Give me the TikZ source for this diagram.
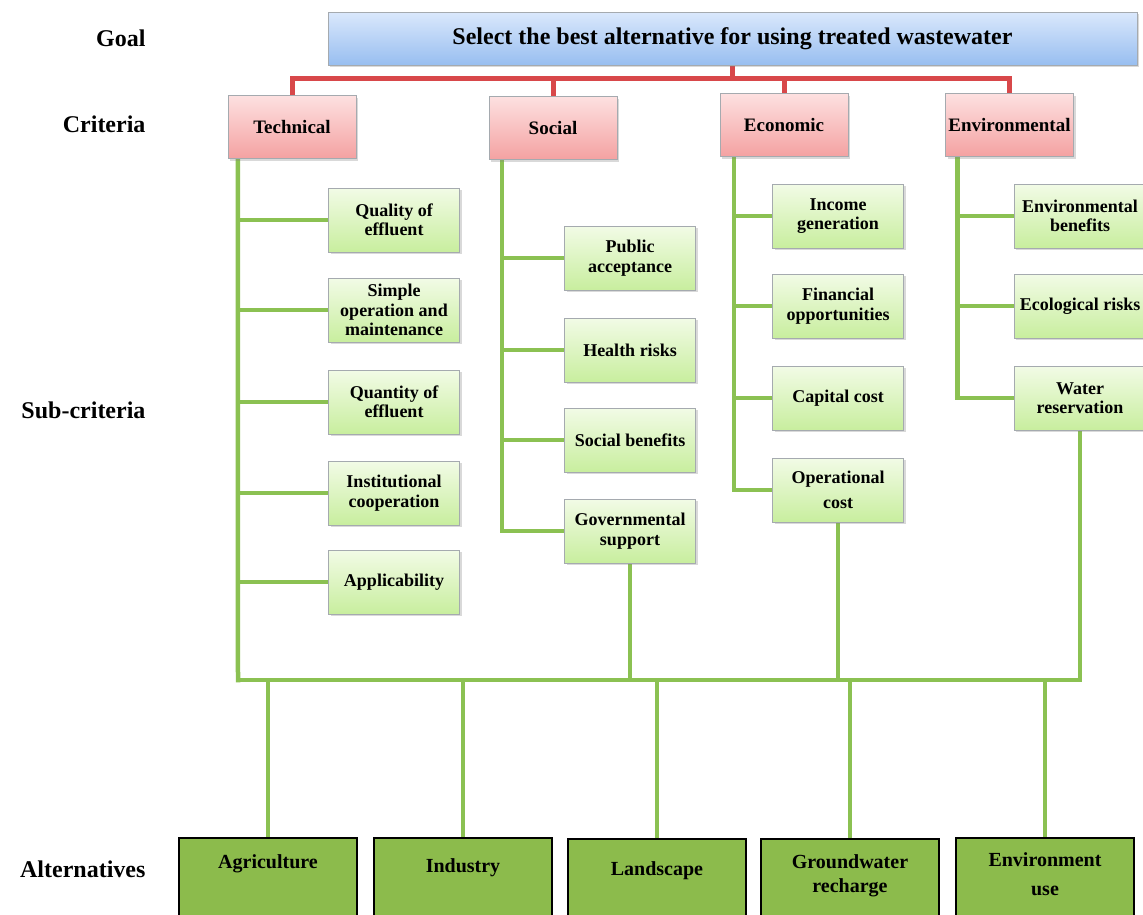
\documentclass[tikz,border=0pt]{standalone}
\usepackage{fontspec}
\setmainfont{Liberation Serif}
\usetikzlibrary{positioning,calc,backgrounds,shadows}
\definecolor{goalT}{RGB}{218,232,252}
\definecolor{goalB}{RGB}{152,190,240}
\definecolor{critT}{RGB}{253,224,224}
\definecolor{critB}{RGB}{244,162,162}
\definecolor{subT}{RGB}{242,251,230}
\definecolor{subB}{RGB}{200,238,158}
\definecolor{altG}{RGB}{140,187,76}
\definecolor{lineG}{RGB}{139,193,82}
\definecolor{lineR}{RGB}{216,72,74}
\definecolor{boxE}{RGB}{165,170,175}
\newcommand{\alttxt}[2]{\parbox[c][78pt][t]{178pt}{\centering\vspace*{#1}#2\par}}

\begin{document}
\begin{tikzpicture}[x=1pt, y=-1pt,
  lab/.style={anchor=east, font=\fontsize{24}{28}\selectfont\bfseries},
  goalbox/.style={rectangle, draw=boxE, top color=goalT, bottom color=goalB, inner sep=0pt,
    minimum width=809pt, minimum height=53pt, font=\fontsize{24}{28}\selectfont\bfseries,
    drop shadow={shadow xshift=2pt, shadow yshift=-2pt, opacity=0.3}},
  crit/.style={rectangle, draw=boxE, top color=critT, bottom color=critB, inner sep=0pt,
    minimum width=128pt, minimum height=63pt, font=\fontsize{19}{22}\selectfont\bfseries,
    drop shadow={shadow xshift=2pt, shadow yshift=-2pt, opacity=0.3}},
  sub/.style={rectangle, draw=boxE, top color=subT, bottom color=subB, inner sep=0pt, align=center,
    minimum width=131pt, minimum height=64pt, font=\fontsize{18}{19.5}\selectfont\bfseries,
    drop shadow={shadow xshift=2pt, shadow yshift=-2pt, opacity=0.3}},
  alt/.style={rectangle, draw=black, line width=1.8pt, fill=altG, inner sep=0pt,
    font=\fontsize{20}{24}\selectfont\bfseries},
  redln/.style={draw=lineR, line width=5pt, line cap=rect},
  grln/.style={draw=lineG, line width=4.5pt, line cap=rect}]
  \useasboundingbox (0,0) rectangle (1143,914);

  % level names
  \node[lab] (lgoal) at (149,38) {Goal};
  \node[lab] (lcrit) at (149,124) {Criteria};
  \node[lab] (lsub) at (149,410) {Sub-criteria};
  \node[lab] (lalt) at (149,869) {Alternatives};

  \node[goalbox] (goal) at (732.5,38.5) {Select the best alternative for using treated wastewater};

  \node[crit] (tech) at (292,127) {Technical};
  \node[crit] (soc) at (553,128) {Social};
  \node[crit] (eco) at (784,125) {Economic};
  \node[crit] (env) at (1009.5,125) {Environmental};

  \node[sub] (qual) at (394,220) {Quality of\\effluent};
  \node[sub] (simp) at (394,310) {Simple\\operation and\\maintenance};
  \node[sub] (quan) at (394,402) {Quantity of\\effluent};
  \node[sub] (inst) at (394,493) {Institutional\\cooperation};
  \node[sub] (appl) at (394,582) {Applicability};

  \node[sub] (pub) at (630,258) {Public\\acceptance};
  \node[sub] (hea) at (630,350) {Health risks};
  \node[sub] (sben) at (630,440) {Social benefits};
  \node[sub] (gov) at (630,531) {Governmental\\support};

  \node[sub] (inc) at (838,216) {Income\\generation};
  \node[sub] (fin) at (838,306) {Financial\\opportunities};
  \node[sub] (cap) at (838,398) {Capital cost};
  \node[sub] (opc) at (838,490) {Operational\\[6pt]cost};

  \node[sub, minimum width=132pt] (envb) at (1080,216) {Environmental\\benefits};
  \node[sub, minimum width=132pt] (ecor) at (1080,306) {Ecological risks};
  \node[sub, minimum width=132pt] (wat) at (1080,398) {Water\\reservation};

  \node[alt] (agr) at (268,877) {\alttxt{17pt}{Agriculture}};
  \node[alt] (ind) at (463,877) {\alttxt{21pt}{Industry}};
  \node[alt] (lan) at (657,878) {\alttxt{23pt}{Landscape}};
  \node[alt] (gro) at (850,878) {\alttxt{16pt}{Groundwater\\recharge}};
  \node[alt] (enu) at (1045,877) {\alttxt{15pt}{Environment\\[5pt]use}};

  \coordinate (busW) at (238,680);
  \coordinate (socT) at ([xshift=13pt]soc.south west);
  \coordinate (ecoT) at ([xshift=14pt]eco.south west);
  \coordinate (envT) at ([xshift=12pt]env.south west);

  \begin{scope}[on background layer]
    \foreach \c in {tech,soc,eco,env}
      \draw[redln] (goal.south) -- ++(0,13) -| (\c.north);
    \draw[grln] ([xshift=10pt]tech.south west) -- (busW);
    \foreach \n in {qual,simp,quan,inst,appl}
      \draw[grln] (\n.west) -- (\n.west -| busW);
    \draw[grln] (socT) |- (gov.west);
    \foreach \n in {pub,hea,sben}
      \draw[grln] (\n.west) -- (\n.west -| socT);
    \draw[grln] (ecoT) |- (opc.west);
    \foreach \n in {inc,fin,cap}
      \draw[grln] (\n.west) -- (\n.west -| ecoT);
    \draw[grln] (envT) |- (wat.west);
    \foreach \n in {envb,ecor}
      \draw[grln] (\n.west) -- (\n.west -| envT);
    \draw[grln] (wat.south) |- (busW);
    \draw[grln] (gov.south) -- (gov.south |- busW);
    \draw[grln] (opc.south) -- (opc.south |- busW);
    \foreach \a in {agr,ind,lan,gro,enu}
      \draw[grln] (\a.north |- busW) -- (\a.north);
  \end{scope}
\end{tikzpicture}
\end{document}
